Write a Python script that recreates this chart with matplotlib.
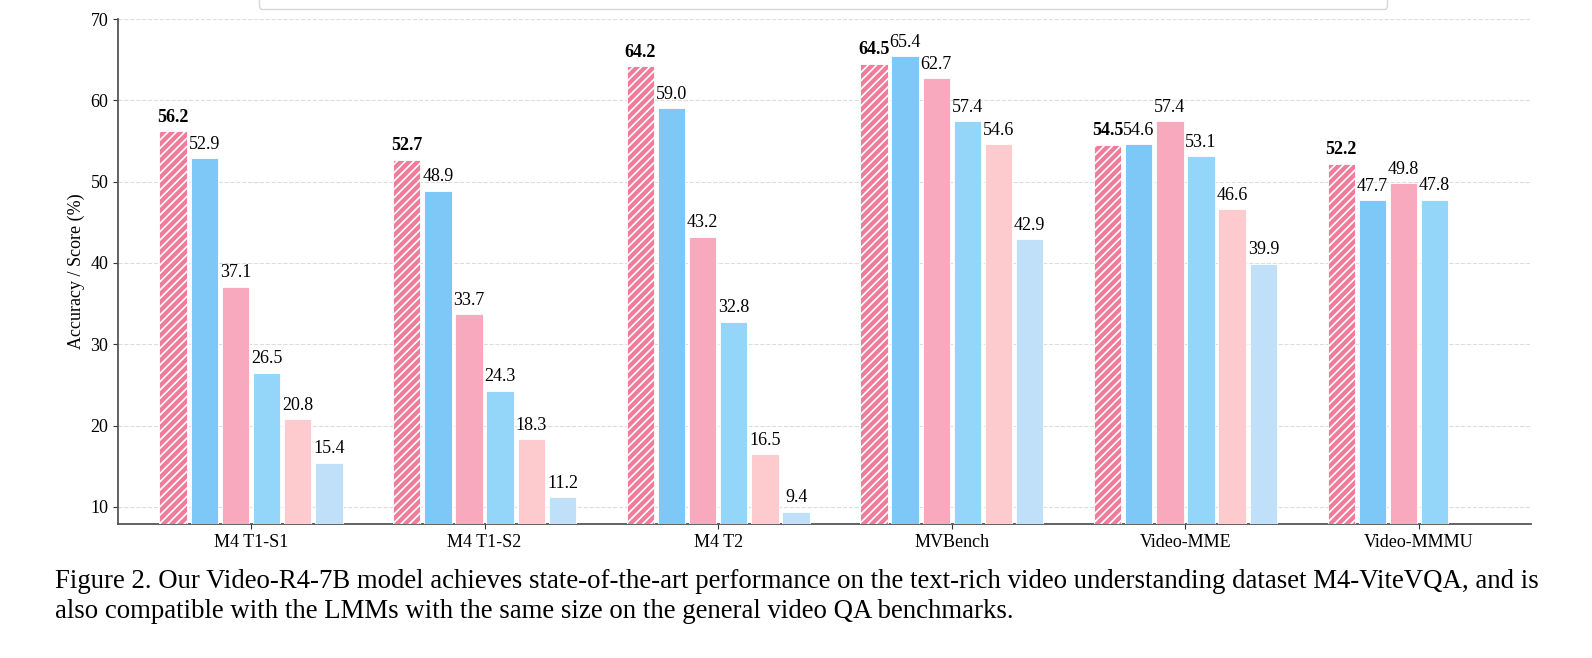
import numpy as np
import matplotlib
matplotlib.use('Agg')
import matplotlib.pyplot as plt

plt.rcParams['font.family'] = ['Liberation Serif', 'DejaVu Serif']
plt.rcParams['hatch.linewidth'] = 1.2

benchmarks = ['M4 T1-S1', 'M4 T1-S2', 'M4 T2', 'MVBench', 'Video-MME', 'Video-MMMU']

models = ['Video-R4-7B (Ours)', 'Qwen2.5-VL-7B (SFT)', 'Video-R1-7B',
          'Qwen2.5-VL-7B', 'LLaVA-OneVision-7B', 'LLaVA-Video-7B (RL)']

video_r4 = [56.2, 52.7, 64.2, 64.5, 54.5, 52.2]
model_b = [52.9, 48.9, 59.0, 65.4, 54.6, 47.7]
model_c = [37.1, 33.7, 43.2, 62.7, 57.4, 49.8]
model_d = [26.5, 24.3, 32.8, 57.4, 53.1, 47.8]
model_e = [20.8, 18.3, 16.5, 54.6, 46.6, np.nan]
model_f = [15.4, 11.2, 9.4, 42.9, 39.9, np.nan]

series = [video_r4, model_b, model_c, model_d, model_e, model_f]
colors = ['#F07C9C', '#7EC8F8', '#F9A9BD', '#93D6F9', '#FDCBCE', '#C0E0FA']

fig = plt.figure(figsize=(15.92, 6.58), dpi=100)
ax = fig.add_axes([118 / 1592, 1 - 524 / 658, (1531 - 118) / 1592, (524 - 19) / 658])

x = np.arange(len(benchmarks))
pitch = 0.8 / 6
width = pitch * 0.88

for i, (vals, col) in enumerate(zip(series, colors)):
    pos = x + (i - 2.5) * pitch
    vals = np.array(vals, dtype=float)
    ok = ~np.isnan(vals)
    if i == 0:
        bars = ax.bar(pos[ok], vals[ok], width, color=col, edgecolor='white',
                      linewidth=0.6, hatch='////', label=models[i], zorder=3)
    else:
        bars = ax.bar(pos[ok], vals[ok], width, color=col, edgecolor='white',
                      linewidth=0.6, label=models[i], zorder=3)
    for b, v in zip(bars, vals[ok]):
        ax.annotate(f'{v:.1f}', (b.get_x() + b.get_width() / 2, v),
                    xytext=(0, 4), textcoords='offset points',
                    ha='center', va='bottom', fontsize=13,
                    fontweight='bold' if i == 0 else 'normal')

ax.set_xlim(-0.569, 5.479)
ax.set_ylim(7.9, 70)
ax.set_yticks([10, 20, 30, 40, 50, 60, 70])
ax.set_xticks(x)
ax.set_xticklabels(benchmarks)
ax.tick_params(labelsize=13, colors='#333333', labelcolor='black')
ax.set_ylabel('Accuracy / Score (%)', fontsize=13)
ax.grid(axis='y', linestyle='--', color='#dddddd', linewidth=0.8, zorder=0)
ax.set_axisbelow(True)
for s in ['top', 'right']:
    ax.spines[s].set_visible(False)
for s in ['left', 'bottom']:
    ax.spines[s].set_color('#555555')
    ax.spines[s].set_linewidth(1.3)

# legend sits above the figure edge, only its lower frame shows
leg = fig.legend(loc='lower center', bbox_to_anchor=(0.517, 1 - 9 / 658), ncol=3,
                 fontsize=13, frameon=True, fancybox=True, edgecolor='#cccccc',
                 borderpad=0.9, borderaxespad=0, columnspacing=13.4)

fig.text(55 / 1592, 1 - 588 / 658,
         'Figure 2. Our Video-R4-7B model achieves state-of-the-art performance on the text-rich '
         'video understanding dataset M4-ViteVQA, and is',
         fontsize=19.3, va='baseline', ha='left')
fig.text(55 / 1592, 1 - 618 / 658,
         'also compatible with the LMMs with the same size on the general video QA benchmarks.',
         fontsize=19.3, va='baseline', ha='left')

fig.savefig('out.png', dpi=100)
